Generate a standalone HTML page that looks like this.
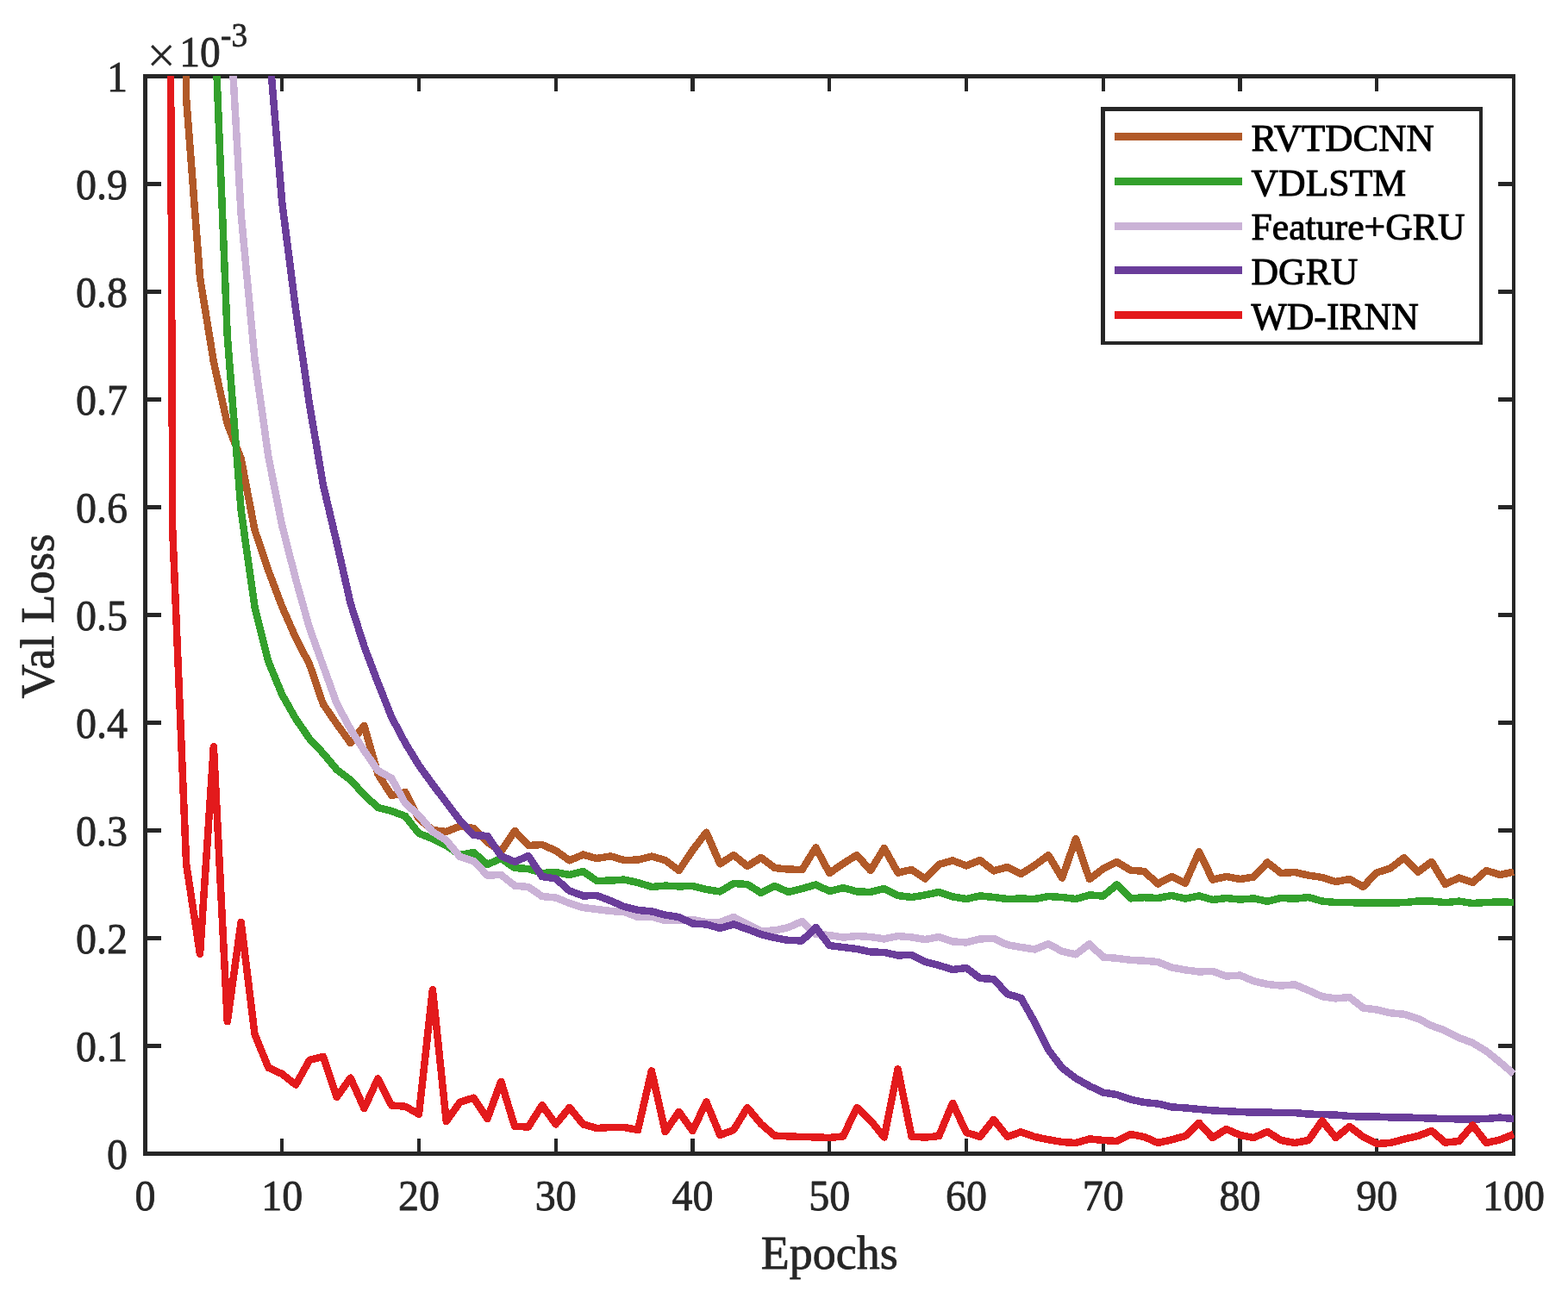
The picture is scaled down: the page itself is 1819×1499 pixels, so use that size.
<!DOCTYPE html>
<html lang="en">
<head>
<meta charset="utf-8">
<title>Val Loss vs Epochs</title>
<style>
html,body{margin:0;padding:0;background:#ffffff;}
body{width:1819px;height:1499px;overflow:hidden;}
svg{display:block;position:absolute;left:0;top:0;}
text{font-family:"Liberation Serif","Times New Roman",Times,serif;stroke-linejoin:round;}
.tk{font-size:50px;fill:#262626;stroke:#262626;stroke-width:0.8;}
.tx{font-size:59px;fill:#262626;stroke:#262626;stroke-width:0.2;}
.lb{font-size:54px;fill:#262626;stroke:#262626;stroke-width:0.8;}
.lg{font-size:44.3px;fill:#000000;stroke:#000000;stroke-width:1;}
.sup{font-size:40px;fill:#262626;stroke:#262626;stroke-width:0.8;}
.ax{fill:#262626;shape-rendering:crispEdges;}
.cv{fill:none;stroke-width:8.5;stroke-linejoin:round;stroke-linecap:butt;shape-rendering:crispEdges;}
</style>
</head>
<body>
<svg width="1819" height="1499" viewBox="0 0 1819 1499" role="img" aria-label="Validation loss versus epochs for five models">
<rect x="0" y="0" width="1819" height="1499" fill="#ffffff"/>
<defs><clipPath id="plotclip"><rect x="160" y="88" width="1600" height="1260"/></clipPath></defs>
<path class="ax" d="M166 86h5v1255h-5zM166 86h1592v5h-1592zM166 1336h1592v5h-1592zM1754 86h4v1255h-4zM325 1321h4v16h-4zM325 90h4v16h-4zM484 1321h4v16h-4zM484 90h4v16h-4zM643 1321h4v16h-4zM643 90h4v16h-4zM801 1321h5v16h-5zM801 90h5v16h-5zM960 1321h4v16h-4zM960 90h4v16h-4zM1119 1321h4v16h-4zM1119 90h4v16h-4zM1278 1321h4v16h-4zM1278 90h4v16h-4zM1436 1321h5v16h-5zM1436 90h5v16h-5zM1595 1321h4v16h-4zM1595 90h4v16h-4zM170 1211h17v5h-17zM1738 1211h17v5h-17zM170 1086h17v5h-17zM1738 1086h17v5h-17zM170 961h17v5h-17zM1738 961h17v5h-17zM170 836h17v5h-17zM1738 836h17v5h-17zM170 711h17v5h-17zM1738 711h17v5h-17zM170 586h17v5h-17zM1738 586h17v5h-17zM170 461h17v5h-17zM1738 461h17v5h-17zM170 336h17v5h-17zM1738 336h17v5h-17zM170 211h17v5h-17zM1738 211h17v5h-17z"/>
<g class="tk" text-anchor="middle">
<text transform="translate(168.5 1404.3) scale(0.96 1)">0</text>
<text transform="translate(327.25 1404.3) scale(0.96 1)">10</text>
<text transform="translate(486 1404.3) scale(0.96 1)">20</text>
<text transform="translate(644.75 1404.3) scale(0.96 1)">30</text>
<text transform="translate(803.5 1404.3) scale(0.96 1)">40</text>
<text transform="translate(962.25 1404.3) scale(0.96 1)">50</text>
<text transform="translate(1121 1404.3) scale(0.96 1)">60</text>
<text transform="translate(1279.75 1404.3) scale(0.96 1)">70</text>
<text transform="translate(1438.5 1404.3) scale(0.96 1)">80</text>
<text transform="translate(1597.25 1404.3) scale(0.96 1)">90</text>
<text transform="translate(1756 1404.3) scale(0.96 1)">100</text>
</g>
<g class="tk" text-anchor="end">
<text transform="translate(148 1355.5) scale(0.96 1)">0</text>
<text transform="translate(148 1230.5) scale(0.96 1)">0.1</text>
<text transform="translate(148 1105.5) scale(0.96 1)">0.2</text>
<text transform="translate(148 980.5) scale(0.96 1)">0.3</text>
<text transform="translate(148 855.5) scale(0.96 1)">0.4</text>
<text transform="translate(148 730.5) scale(0.96 1)">0.5</text>
<text transform="translate(148 605.5) scale(0.96 1)">0.6</text>
<text transform="translate(148 480.5) scale(0.96 1)">0.7</text>
<text transform="translate(148 355.5) scale(0.96 1)">0.8</text>
<text transform="translate(148 230.5) scale(0.96 1)">0.9</text>
<text transform="translate(148 105.5) scale(0.96 1)">1</text>
</g>
<text class="tx" x="170.5" y="84.3">×</text>
<text class="tk" transform="translate(208.3 77) scale(0.95 1)">10</text>
<text class="sup" transform="translate(256 54) scale(0.93 1)">-3</text>
<text class="lb" text-anchor="middle" x="962.25" y="1471.7">Epochs</text>
<text class="lb" text-anchor="middle" transform="translate(62.3 714.9) rotate(-90) scale(1.02 1)">Val Loss</text>
<g clip-path="url(#plotclip)">
<polyline class="cv" stroke="#B15928" points="184.38,-6000 200.25,-3000 216.12,114 232,322 247.88,420 263.75,492 279.62,532 295.5,615 311.38,662 327.25,704 343.12,740 359,770.6 374.88,817 390.75,840 406.62,862 422.5,842 438.38,898 454.25,923 470.12,919 486,950 501.88,963 517.75,965 533.62,958.6 549.5,961 565.38,977 581.25,988 597.12,964 613,981 628.88,980 644.75,987 660.62,998.3 676.5,991.6 692.38,996 708.25,993.4 724.12,998 740,997.6 755.88,993.6 771.75,998 787.62,1010 803.5,986.5 819.38,965.7 835.25,1002.3 851.12,992 867,1005 882.88,995 898.75,1007 914.62,1008.6 930.5,1009 946.38,983.35 962.25,1013 978.12,1002 994,992 1009.88,1010 1025.75,983.95 1041.62,1012.6 1057.5,1009 1073.38,1019.6 1089.25,1003 1105.12,998.4 1121,1004.4 1136.88,998 1152.75,1010.4 1168.62,1006 1184.5,1014 1200.38,1004 1216.25,992.2 1232.12,1018.6 1248,973.35 1263.88,1020 1279.75,1008 1295.62,1000 1311.5,1009.6 1327.38,1011 1343.25,1025.5 1359.12,1017 1375,1024.6 1390.88,988.35 1406.75,1020.6 1422.62,1017 1438.5,1020 1454.38,1017.6 1470.25,1000.6 1486.12,1013 1502,1012 1517.88,1015.6 1533.75,1018 1549.62,1023 1565.5,1020 1581.38,1028.8 1597.25,1012.4 1613.12,1007.3 1629,995 1644.88,1011.8 1660.75,999.8 1676.62,1026 1692.5,1018.4 1708.38,1024 1724.25,1010 1740.12,1015 1756,1011.6"/>
<polyline class="cv" stroke="#33A02C" points="232,-400 247.88,-3 263.75,390 279.62,592 295.5,704 311.38,767.5 327.25,806 343.12,834 359,857 374.88,874 390.75,893 406.62,905 422.5,922 438.38,937 454.25,941 470.12,947 486,967 501.88,973 517.75,981 533.62,992 549.5,989 565.38,1003 581.25,996 597.12,1007 613,1008 628.88,1013 644.75,1012 660.62,1015 676.5,1011 692.38,1022 708.25,1021.6 724.12,1020.6 740,1024 755.88,1029 771.75,1027.6 787.62,1028.4 803.5,1028 819.38,1032 835.25,1034.4 851.12,1025 867,1026 882.88,1036 898.75,1028 914.62,1035 930.5,1031 946.38,1026.4 962.25,1034 978.12,1030 994,1034.4 1009.88,1035 1025.75,1031 1041.62,1039 1057.5,1041 1073.38,1038.4 1089.25,1035 1105.12,1040.4 1121,1043 1136.88,1039.4 1152.75,1041 1168.62,1043 1184.5,1042.6 1200.38,1043 1216.25,1040 1232.12,1041 1248,1043 1263.88,1038.4 1279.75,1039.6 1295.62,1026.4 1311.5,1042.4 1327.38,1041.2 1343.25,1042 1359.12,1039 1375,1042.6 1390.88,1039.4 1406.75,1044 1422.62,1042 1438.5,1043.6 1454.38,1042.4 1470.25,1045.8 1486.12,1041.8 1502,1042.8 1517.88,1041 1533.75,1045.6 1549.62,1047 1565.5,1047.2 1581.38,1047.4 1597.25,1047.4 1613.12,1047.4 1629,1047.2 1644.88,1045.5 1660.75,1045.5 1676.62,1047.2 1692.5,1045.6 1708.38,1048 1724.25,1047 1740.12,1046.4 1756,1047"/>
<polyline class="cv" stroke="#CAB2D6" points="247.88,-500 263.75,-31 279.62,248 295.5,417 311.38,530 327.25,610 343.12,672 359,728.5 374.88,772.5 390.75,816.5 406.62,846 422.5,871 438.38,894 454.25,903 470.12,932 486,946 501.88,965 517.75,975 533.62,994 549.5,999 565.38,1015.6 581.25,1015 597.12,1027.6 613,1029 628.88,1040 644.75,1041.5 660.62,1048 676.5,1053 692.38,1055 708.25,1057 724.12,1058 740,1064 755.88,1063.6 771.75,1068 787.62,1067.6 803.5,1067 819.38,1070 835.25,1070 851.12,1064 867,1072.4 882.88,1080 898.75,1079.6 914.62,1076 930.5,1069 946.38,1084 962.25,1085 978.12,1087.6 994,1086 1009.88,1087 1025.75,1089.4 1041.62,1086 1057.5,1087.4 1073.38,1090 1089.25,1087 1105.12,1092.4 1121,1093.4 1136.88,1089.4 1152.75,1088.8 1168.62,1096.2 1184.5,1099 1200.38,1101.5 1216.25,1095.2 1232.12,1103.8 1248,1107.3 1263.88,1095.2 1279.75,1110.5 1295.62,1111.8 1311.5,1113.8 1327.38,1114.7 1343.25,1116.1 1359.12,1122.4 1375,1125.4 1390.88,1127.4 1406.75,1127 1422.62,1132.5 1438.5,1131.6 1454.38,1138.2 1470.25,1142 1486.12,1143.5 1502,1142.4 1517.88,1149 1533.75,1156.2 1549.62,1158.4 1565.5,1157 1581.38,1169.5 1597.25,1171.5 1613.12,1175.3 1629,1176.8 1644.88,1181.8 1660.75,1190 1676.62,1195.8 1692.5,1204 1708.38,1210 1724.25,1219.6 1740.12,1232.4 1756,1246"/>
<polyline class="cv" stroke="#6A3D9A" points="295.5,-200 311.38,46 327.25,235 343.12,359.4 359,469 374.88,562.5 390.75,630 406.62,700 422.5,750 438.38,792 454.25,832 470.12,862 486,888 501.88,910 517.75,931 533.62,952 549.5,969 565.38,970 581.25,993 597.12,1000 613,993 628.88,1017 644.75,1019.5 660.62,1033.5 676.5,1039.4 692.38,1039 708.25,1045 724.12,1052 740,1056 755.88,1057.4 771.75,1061.6 787.62,1064 803.5,1071.6 819.38,1072.4 835.25,1077 851.12,1072.4 867,1078 882.88,1084 898.75,1088 914.62,1091 930.5,1091.4 946.38,1076 962.25,1097 978.12,1099 994,1101 1009.88,1104.4 1025.75,1105 1041.62,1108.4 1057.5,1108 1073.38,1116 1089.25,1120 1105.12,1125 1121,1123 1136.88,1135 1152.75,1136 1168.62,1153.3 1184.5,1158 1200.38,1186 1216.25,1218 1232.12,1239 1248,1251 1263.88,1260 1279.75,1267.6 1295.62,1270 1311.5,1275.6 1327.38,1279 1343.25,1280.6 1359.12,1284.4 1375,1285.4 1390.88,1287 1406.75,1288.4 1422.62,1289.2 1438.5,1290 1454.38,1290.6 1470.25,1290.6 1486.12,1291 1502,1291 1517.88,1292.6 1533.75,1293 1549.62,1293.6 1565.5,1295 1581.38,1295.6 1597.25,1295.6 1613.12,1296.4 1629,1296.4 1644.88,1297 1660.75,1297.6 1676.62,1298 1692.5,1298.4 1708.38,1298.6 1724.25,1298 1740.12,1296.6 1756,1298"/>
<polyline class="cv" stroke="#E31A1C" points="184.38,-3300 200.25,615 216.12,1002.5 232,1106.9 247.88,866 263.75,1185.2 279.62,1069.85 295.5,1200 311.38,1238.75 327.25,1246 343.12,1258.6 359,1230 374.88,1226 390.75,1272.8 406.62,1250.6 422.5,1286 438.38,1251.4 454.25,1282.5 470.12,1283.75 486,1292.6 501.88,1148.1 517.75,1301 533.62,1278.75 549.5,1273.75 565.38,1298 581.25,1254.75 597.12,1307 613,1307.4 628.88,1282.35 644.75,1304.4 660.62,1285 676.5,1304.4 692.38,1309 708.25,1308 724.12,1308 740,1311 755.88,1242.35 771.75,1313 787.62,1290 803.5,1312 819.38,1278.35 835.25,1317 851.12,1311 867,1285 882.88,1304 898.75,1317.6 914.62,1318.4 930.5,1319 946.38,1319.4 962.25,1320 978.12,1318.4 994,1285 1009.88,1300 1025.75,1319.5 1041.62,1240.2 1057.5,1318.6 1073.38,1319.6 1089.25,1318 1105.12,1279.8 1121,1314 1136.88,1318.8 1152.75,1299 1168.62,1318.8 1184.5,1313.3 1200.38,1319 1216.25,1322.2 1232.12,1325 1248,1326 1263.88,1321.4 1279.75,1323 1295.62,1324 1311.5,1316 1327.38,1319 1343.25,1326 1359.12,1322.4 1375,1318 1390.88,1302.75 1406.75,1320 1422.62,1310 1438.5,1317 1454.38,1320 1470.25,1313 1486.12,1323 1502,1326 1517.88,1323 1533.75,1300.35 1549.62,1320 1565.5,1307 1581.38,1319 1597.25,1327 1613.12,1326 1629,1321.6 1644.88,1318 1660.75,1312 1676.62,1325.6 1692.5,1324 1708.38,1305.35 1724.25,1326 1740.12,1322.4 1756,1316"/>
</g>
<rect x="1277" y="124" width="443" height="276" fill="#ffffff"/>
<path class="ax" d="M1277 124h5v276h-5zM1277 124h443v5h-443zM1277 396h443v4h-443zM1716 124h4v276h-4z"/>
<rect x="1293" y="154" width="148" height="9" fill="#B15928" shape-rendering="crispEdges"/>
<text class="lg" transform="translate(1451.5 174.9) scale(1.008 1)">RVTDCNN</text>
<rect x="1293" y="206" width="148" height="9" fill="#33A02C" shape-rendering="crispEdges"/>
<text class="lg" transform="translate(1451.5 226.65) scale(0.987 1)">VDLSTM</text>
<rect x="1293" y="258" width="148" height="9" fill="#CAB2D6" shape-rendering="crispEdges"/>
<text class="lg" transform="translate(1451.5 278.4) scale(0.987 1)">Feature+GRU</text>
<rect x="1293" y="309" width="148" height="9" fill="#6A3D9A" shape-rendering="crispEdges"/>
<text class="lg" transform="translate(1451.5 330.15) scale(0.987 1)">DGRU</text>
<rect x="1293" y="361" width="148" height="9" fill="#E31A1C" shape-rendering="crispEdges"/>
<text class="lg" transform="translate(1451.5 381.9) scale(0.987 1)">WD-IRNN</text>
</svg>
</body>
</html>
